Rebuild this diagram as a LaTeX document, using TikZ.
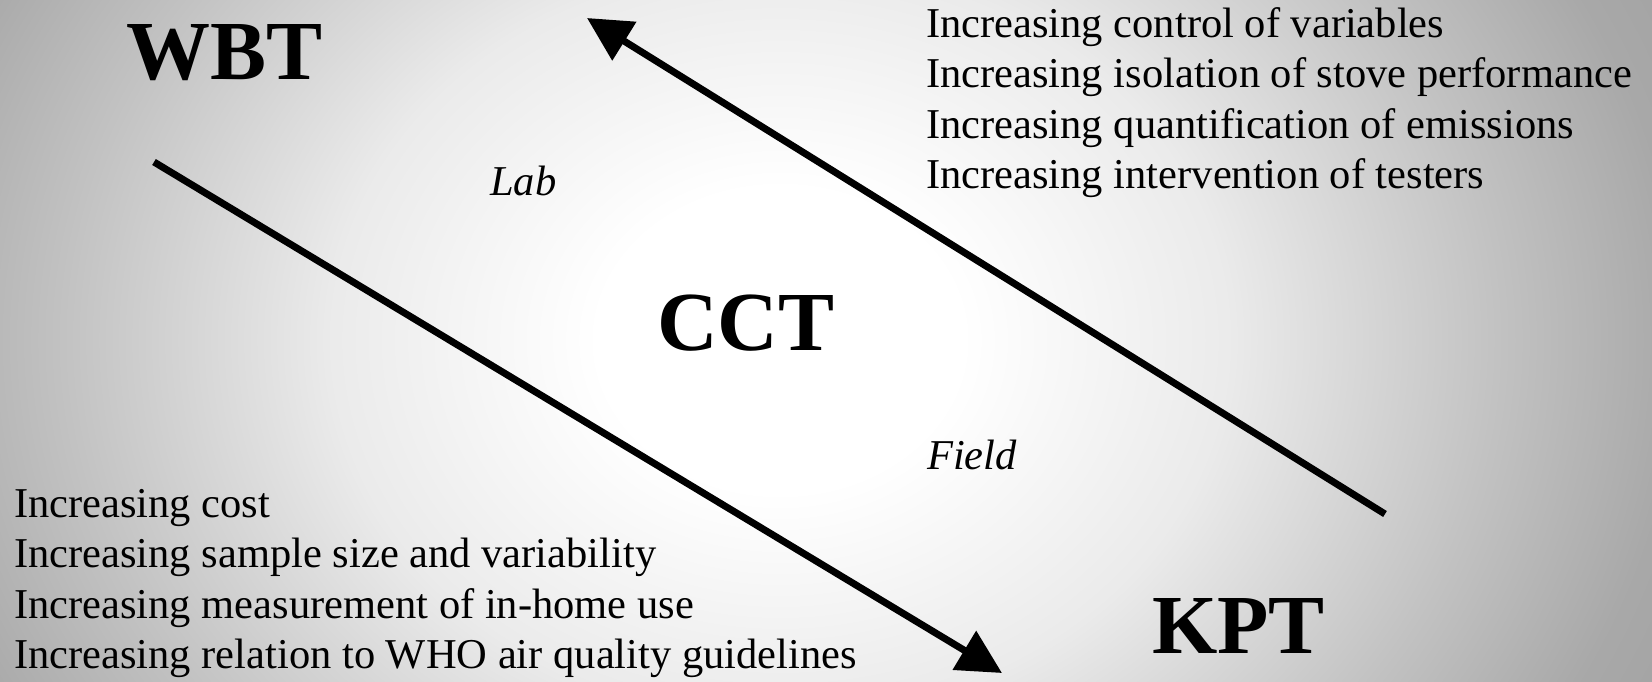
\documentclass[tikz,border=0pt]{standalone}
\usepackage{fontspec}
\setmainfont{Liberation Serif}
\usetikzlibrary{arrows.meta}

% soft glow behind the slide (path box = inner 50bp square)
\pgfdeclareradialshading{bgfade}{\pgfpoint{0bp}{0bp}}{%
  color(0bp)=(white); color(5.2bp)=(white); color(12.9bp)=(black!8);
  color(20.6bp)=(black!24); color(25.8bp)=(black!34); color(36.6bp)=(black!42);
  color(50bp)=(black!46)}

\begin{document}
\begin{tikzpicture}[x=1pt,y=-1pt,
  big/.style={font=\fontsize{84}{84}\selectfont\bfseries,inner sep=0pt,anchor=base west},
  place/.style={font=\fontsize{42.5}{50.5}\selectfont\itshape,inner sep=0pt,anchor=base west},
  note/.style={font=\fontsize{42.5}{50.5}\selectfont,align=left,inner sep=0pt,anchor=base west},
  trend/.style={line width=7pt,-{Triangle[length=44pt,width=44pt]}}]
\begin{scope}
\clip (0,0) rectangle (1652,681);
\shade[shading=bgfade] (-92,-387) rectangle (1652,1067);
\end{scope}
\useasboundingbox (0,0) rectangle (1652,681);

% test names
\node[big] (wbt) at (126,79) {WBT};
\node[big] (cct) at (657,350) {CCT};
\node[big] (kpt) at (1152,653) {KPT};
\node[place] (lab) at (490,195) {Lab};
\node[place] (field) at (927,469) {Field};

% what grows along each direction (placed by the last line)
\node[note] (labside) at (926,188.5) {Increasing control of variables\\Increasing isolation of stove performance\\Increasing quantification of emissions\\Increasing intervention of testers};
\node[note] (fieldside) at (14,668.5) {Increasing cost\\Increasing sample size and variability\\Increasing measurement of in-home use\\Increasing relation to WHO air quality guidelines};

% the two trend arrows
\coordinate (d0) at (154,162);\coordinate (d1) at (1002,673);
\coordinate (u0) at (1385,514);\coordinate (u1) at (587,18);
\draw[trend] (d0)--(d1);\draw[trend] (u0)--(u1);
\end{tikzpicture}
\end{document}
